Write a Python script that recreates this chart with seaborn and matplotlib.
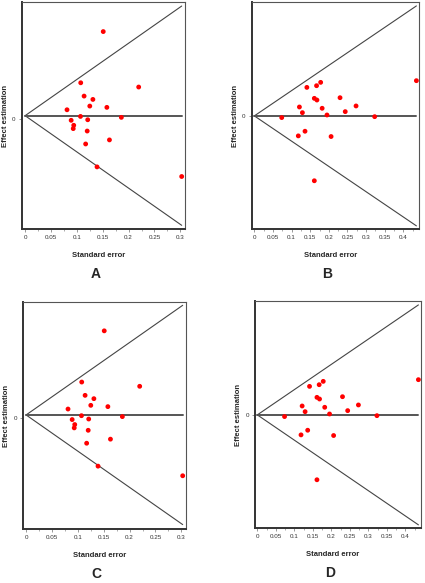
"""
Funnel plots (effect estimation vs standard error), four panels
"""

import numpy as np
import pandas as pd
import matplotlib
matplotlib.use('Agg')
import matplotlib.pyplot as plt
from matplotlib.ticker import MultipleLocator
import seaborn as sns

sns.set_style('white')
plt.rcParams['font.family'] = ['Liberation Sans', 'DejaVu Sans']

# Study set 1 (panels A and C)
se_1 = [0.151, 0.1075, 0.2195, 0.114, 0.131, 0.125, 0.081, 0.158, 0.107, 0.186,
        0.089, 0.121, 0.094, 0.093, 0.120, 0.163, 0.117, 0.139, 0.3026]
eff_1 = [0.473, 0.196, 0.173, 0.124, 0.106, 0.070, 0.050, 0.063, 0.014, 0.009,
         -0.007, -0.004, -0.034, -0.052, -0.065, -0.113, -0.135, -0.259, -0.311]
pooled_1 = 0.018

# Study set 2 (panels B and D)
se_2 = [0.435, 0.178, 0.141, 0.167, 0.161, 0.168, 0.230, 0.121, 0.182, 0.273,
        0.129, 0.244, 0.195, 0.0735, 0.323, 0.136, 0.118, 0.206, 0.161]
eff_2 = [0.271, 0.258, 0.219, 0.232, 0.134, 0.121, 0.139, 0.067, 0.057, 0.075,
         0.023, 0.031, 0.005, -0.015, -0.008, -0.121, -0.157, -0.162, -0.505]
pooled_2 = -0.002

xticks_1 = [0, 0.05, 0.1, 0.15, 0.2, 0.25, 0.3]
xticks_2 = [0, 0.05, 0.1, 0.15, 0.2, 0.25, 0.3, 0.35, 0.4]


def fmt(v):
    return '0' if v == 0 else ('%g' % v)


def funnel(ax, se, eff, pooled, xticks, xlim, ylim, letter):
    df = pd.DataFrame({'se': se, 'eff': eff})
    se_max = max(se)

    # pseudo 95% confidence limits
    x = np.array([0, se_max])
    ax.plot(x, pooled + 1.96 * x, color='#444444', lw=0.8)
    ax.plot(x, pooled - 1.96 * x, color='#444444', lw=0.8)
    ax.plot(x, [pooled, pooled], color='#555555', lw=1.4)

    sns.scatterplot(data=df, x='se', y='eff', ax=ax, color='red',
                    s=12, edgecolor='none', zorder=3)

    ax.set_xlim(*xlim)
    ax.set_ylim(*ylim)
    ax.set_xticks(xticks)
    ax.set_xticklabels([fmt(t) for t in xticks], fontsize=4.5)
    ax.xaxis.set_minor_locator(MultipleLocator(0.025))
    ax.set_yticks([0])
    ax.set_yticklabels(['0'], fontsize=4.5)
    ax.tick_params(axis='both', which='major', length=2.5, width=0.6,
                   pad=2, color='#888888', labelcolor='#333333',
                   bottom=True, left=True)
    ax.tick_params(axis='x', which='minor', length=1.5, width=0.5,
                   bottom=True, color='#888888')

    for side in ['left', 'bottom']:
        ax.spines[side].set_linewidth(1.4)
        ax.spines[side].set_color('#333333')
    for side in ['top', 'right']:
        ax.spines[side].set_linewidth(0.8)
        ax.spines[side].set_color('#555555')

    ax.set_xlabel('Standard error', fontsize=5.5, fontweight='bold')
    ax.set_ylabel('Effect estimation', fontsize=5.5, fontweight='bold')
    ax.xaxis.set_label_coords(0.47, -0.115)
    ax.yaxis.set_label_coords(-0.1, 0.5)
    ax.xaxis.label.set_va('center')
    ax.yaxis.label.set_va('center')

    ax.text(0.45, -0.2, letter, transform=ax.transAxes, ha='center',
            va='center', fontsize=10, fontweight='bold')


fig = plt.figure(figsize=(4.25, 5.83), dpi=100)

ax_a = fig.add_axes([22 / 425, 1 - 229 / 583, 163 / 425, 227 / 583])
ax_b = fig.add_axes([252 / 425, 1 - 229 / 583, 167 / 425, 227 / 583])
ax_c = fig.add_axes([23 / 425, 1 - 529 / 583, 163 / 425, 227 / 583])
ax_d = fig.add_axes([255 / 425, 1 - 528 / 583, 166 / 425, 227 / 583])

funnel(ax_a, se_1, eff_1, pooled_1, xticks_1, (-0.006, 0.309), (-0.595, 0.633), 'A')
funnel(ax_b, se_2, eff_2, pooled_2, xticks_2, (-0.0063, 0.442), (-0.879, 0.881), 'B')
funnel(ax_c, se_1, eff_1, pooled_1, xticks_1, (-0.006, 0.309), (-0.599, 0.629), 'C')
funnel(ax_d, se_2, eff_2, pooled_2, xticks_2, (-0.0063, 0.442), (-0.879, 0.881), 'D')

plt.savefig('out.png', dpi=100)
